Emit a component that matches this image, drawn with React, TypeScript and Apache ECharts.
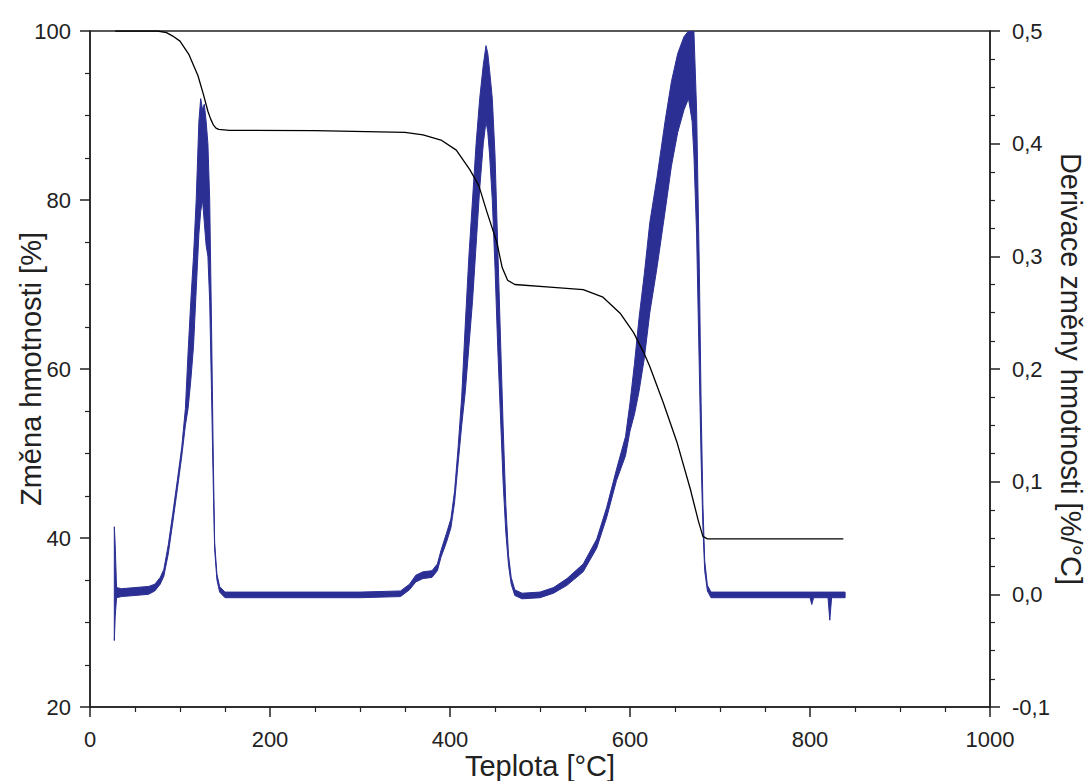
import React, { useEffect, useRef } from "react";
import * as echarts from "echarts";

// Thermogravimetric curve (left axis, %)
const tgT = [28, 75, 85, 92, 100, 110, 120, 126, 131, 134, 137, 140, 143, 155, 250, 350, 370, 390, 407, 422, 432, 441, 452, 458, 464, 472, 511, 548, 570, 589, 604, 615, 622, 637, 652, 667, 676, 681, 686, 837];
const tgW = [100, 100, 99.8, 99.4, 98.8, 97.2, 94.7, 92.5, 90.5, 89.6, 88.9, 88.5, 88.35, 88.25, 88.2, 88.0, 87.7, 87.1, 85.9, 83.6, 81.7, 78.6, 75.0, 72.0, 70.5, 70.0, 69.7, 69.4, 68.5, 66.6, 64.3, 62.0, 60.3, 56.0, 51.4, 45.8, 42.0, 40.2, 39.9, 39.9];

// Derivative curve (right axis, %/°C): lower and upper edge of the noisy trace
const dtgT = [27, 28, 29.5, 35, 50, 65, 72, 78, 82, 87, 92, 97, 102, 106, 109, 112, 115, 118, 121, 123, 125, 127, 129, 131, 133, 135, 137, 138.5, 141, 144, 150, 200, 250, 300, 345, 355, 362, 370, 380, 386, 390, 396, 401, 405, 409, 413, 417, 421, 425, 429, 433, 437, 440, 442, 444, 447, 450, 453, 456, 459, 462, 465, 468, 472, 480, 500, 515, 530, 548, 563, 574, 585, 595, 600, 605, 610, 616, 622, 630, 639, 646, 653, 660, 665, 669, 671, 674, 677, 679, 681, 683, 686, 690, 750, 800, 802, 804, 820, 822, 824, 839];
const dtgLow = [-0.041, -0.02, -0.003, -0.002, -0.001, 0.0, 0.003, 0.009, 0.016, 0.036, 0.064, 0.093, 0.123, 0.15, 0.165, 0.19, 0.22, 0.27, 0.32, 0.34, 0.35, 0.33, 0.31, 0.3, 0.26, 0.18, 0.095, 0.04, 0.013, 0.002, -0.003, -0.003, -0.003, -0.003, -0.002, 0.004, 0.011, 0.014, 0.015, 0.021, 0.033, 0.046, 0.059, 0.081, 0.116, 0.15, 0.18, 0.22, 0.26, 0.31, 0.36, 0.4, 0.42, 0.41, 0.39, 0.35, 0.29, 0.22, 0.16, 0.1, 0.055, 0.026, 0.009, -0.001, -0.004, -0.003, 0.001, 0.008, 0.02, 0.041, 0.068, 0.101, 0.123, 0.145, 0.16, 0.18, 0.21, 0.25, 0.29, 0.34, 0.38, 0.41, 0.43, 0.44, 0.42, 0.39, 0.32, 0.2, 0.12, 0.06, 0.021, 0.003, -0.003, -0.003, -0.003, -0.009, -0.003, -0.003, -0.023, -0.003, -0.003];
const dtgHigh = [0.06, 0.044, 0.006, 0.005, 0.006, 0.007, 0.009, 0.015, 0.022, 0.044, 0.072, 0.101, 0.131, 0.165, 0.215, 0.26, 0.3, 0.35, 0.42, 0.44, 0.43, 0.435, 0.42, 0.4, 0.35, 0.24, 0.12, 0.046, 0.018, 0.007, 0.002, 0.002, 0.002, 0.002, 0.003, 0.009, 0.017, 0.02, 0.021, 0.027, 0.039, 0.054, 0.067, 0.091, 0.13, 0.175, 0.24, 0.3, 0.35, 0.4, 0.44, 0.47, 0.487, 0.48, 0.465, 0.44, 0.39, 0.31, 0.23, 0.15, 0.08, 0.035, 0.015, 0.004, 0.001, 0.002, 0.006, 0.014, 0.027, 0.049, 0.077, 0.111, 0.14, 0.17, 0.205, 0.245, 0.285, 0.33, 0.37, 0.42, 0.455, 0.48, 0.495, 0.5, 0.5, 0.5, 0.43, 0.29, 0.17, 0.08, 0.03, 0.008, 0.002, 0.002, 0.002, 0.002, 0.002, 0.002, 0.002, 0.002, 0.002];

const xRange = [0, 1000, 200];
const leftRange = [20, 100, 20];
const rightRange = [-0.1, 0.5, 0.1];

const xName = "Teplota [°C]";
const leftName = "Změna hmotnosti [%]";
const rightName = "Derivace změny hmotnosti [%/°C]";

const FONT = "Liberation Sans, Arial, sans-serif";
const INK = "#222";
const BLUE = "#2b2f94";

export default function App() {
  const ref = useRef<HTMLDivElement>(null);
  useEffect(() => {
    if (!ref.current) return;
    const chart = echarts.init(ref.current, undefined, { renderer: "svg" });
    const axisCommon = {
      axisLine: { show: true, onZero: false, lineStyle: { color: INK, width: 1.5 } },
      axisTick: { show: true, inside: false, length: 10, lineStyle: { color: INK, width: 1.5 } },
      minorTick: { show: true, splitNumber: 4, length: 5, lineStyle: { color: INK, width: 1.2 } },
      splitLine: { show: false },
      minorSplitLine: { show: false },
      nameMoveOverlap: false,
      nameTextStyle: { fontFamily: FONT, fontSize: 29, color: INK },
    };
    const labelStyle = { fontFamily: FONT, fontSize: 22, color: INK };
    const bandData = dtgT.map((t, i) => [t, dtgLow[i], dtgHigh[i]]);
    chart.setOption({
      animation: false,
      backgroundColor: "#fff",
      grid: {
        left: 90, right: 99, top: 31, bottom: 74,
        containLabel: false, outerBoundsMode: "none",
        show: true, borderColor: INK, borderWidth: 1.5, backgroundColor: "transparent",
      },
      xAxis: {
        type: "value",
        min: xRange[0],
        max: xRange[1],
        interval: xRange[2],
        name: xName,
        nameLocation: "middle",
        nameGap: 44,
        axisLabel: { ...labelStyle, margin: 21, formatter: (v: number) => String(v) },
        ...axisCommon,
      },
      yAxis: [
        {
          type: "value",
          position: "left",
          min: leftRange[0],
          max: leftRange[1],
          interval: leftRange[2],
          name: leftName,
          nameLocation: "middle",
          nameGap: 45,
          axisLabel: { ...labelStyle, margin: 19, formatter: (v: number) => String(v) },
          ...axisCommon,
        },
        {
          type: "value",
          position: "right",
          min: rightRange[0],
          max: rightRange[1],
          interval: rightRange[2],
          name: rightName,
          nameLocation: "middle",
          nameRotate: -90,
          nameGap: 66,
          axisLabel: { ...labelStyle, margin: 22, formatter: (v: number) => v.toFixed(1).replace(".", ",") },
          ...axisCommon,
        },
      ],
      series: [
        {
          type: "custom",
          yAxisIndex: 1,
          data: bandData,
          encode: { x: 0, y: [1, 2] },
          clip: true,
          z: 2,
          renderItem: (params: any, api: any) => {
            if (params.dataIndex !== 0) return null;
            const upper = bandData.map((d) => api.coord([d[0], d[2]]));
            const lower = bandData.map((d) => api.coord([d[0], d[1]])).reverse();
            return {
              type: "polygon",
              shape: { points: upper.concat(lower) },
              style: { fill: BLUE, stroke: BLUE, lineWidth: 1 },
            };
          },
        },
        {
          type: "line",
          yAxisIndex: 0,
          data: tgT.map((t, i) => [t, tgW[i]]),
          symbol: "none",
          lineStyle: { color: "#000", width: 1.3 },
          z: 3,
        },
      ],
    });
    return () => chart.dispose();
  }, []);
  return <div ref={ref} style={{ position: "fixed", left: 0, top: 0, width: 1089, height: 781, background: "#fff" }} />;
}
